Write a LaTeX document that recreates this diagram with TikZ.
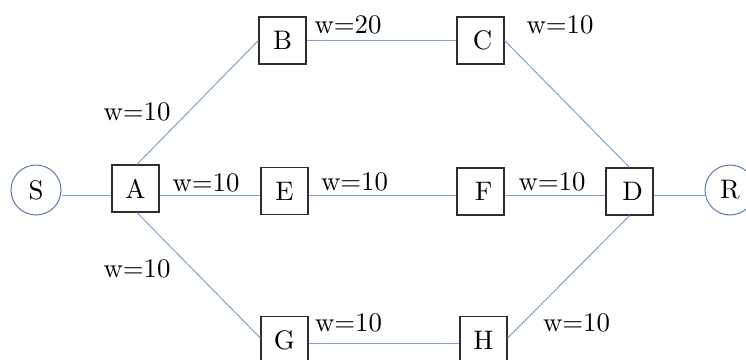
\documentclass[tikz,border=0pt]{standalone}
\usetikzlibrary{calc}
\definecolor{edgeblue}{RGB}{130,160,210}
\definecolor{ringblue}{RGB}{95,120,165}
\definecolor{boxgray}{RGB}{45,45,45}
\newcommand{\bigtxt}[1]{\scalebox{2.68}{#1}}
\begin{document}
\begin{tikzpicture}[x=1pt,y=-1pt,
  boxnode/.style={draw=boxgray,line width=1.3pt,minimum width=47pt,minimum height=47pt,inner sep=0pt},
  endnode/.style={draw=ringblue,line width=1pt,circle,minimum size=50pt,inner sep=0pt},
  wlabel/.style={inner sep=0pt,anchor=center},
  link/.style={draw=edgeblue,line width=1pt}]
\useasboundingbox (0,0) rectangle (746,359);
\clip (0,0) rectangle (746,359);
\node[endnode] (S) at (36,190) {\bigtxt{S}};
\node[boxnode] (A) at (135.5,188.5) {\bigtxt{A}};
\node[boxnode] (B) at (282.5,40.5) {\bigtxt{B}};
\node[boxnode] (C) at (480.5,40.5) {\hspace*{4pt}\bigtxt{C}};
\node[boxnode] (E) at (284.5,191) {\bigtxt{E}};
\node[boxnode] (F) at (480.5,191.5) {\hspace*{6pt}\bigtxt{F}};
\node[boxnode] (D) at (629.5,191.5) {\hspace*{6pt}\bigtxt{D}};
\node[endnode] (R) at (730,190) {\bigtxt{R}};
\node[boxnode] (G) at (284.5,340) {\bigtxt{G}};
\node[boxnode] (H) at (483.5,340) {\bigtxt{H}};
\path[link] ([yshift=-5.5pt]S.east) -- ([yshift=-7pt]A.west);
\path[link] ([yshift=-7pt]A.east) -- ([yshift=-4.5pt]E.west);
\path[link] ([yshift=-4.5pt]E.east) -- ([yshift=-4pt]F.west);
\path[link] ([yshift=-4pt]F.east) -- ([yshift=-4pt]D.west);
\path[link] ([yshift=-4pt]D.east) -- ([yshift=-5.5pt]R.west);
\path[link] (B.east) -- (C.west);
\path[link] ([yshift=-3.5pt]G.east) -- ([yshift=-3.5pt]H.west);
\path[link] ([xshift=1.5pt]A.north) -- (B.west);
\path[link] ([xshift=1.5pt]A.south) -- ([yshift=2pt]G.west);
\path[link] (C.east) -- (D.north);
\path[link] ([yshift=2pt]H.east) -- (D.south);
\node[wlabel] (l1) at (137,112) {\bigtxt{w=10}};
\node[wlabel] (l2) at (348,25) {\bigtxt{w=20}};
\node[wlabel] (l3) at (560,25) {\bigtxt{w=10}};
\node[wlabel] (l4) at (206,183) {\bigtxt{w=10}};
\node[wlabel] (l5) at (354.5,182) {\bigtxt{w=10}};
\node[wlabel] (l6) at (552,182) {\bigtxt{w=10}};
\node[wlabel] (l7) at (137,269) {\bigtxt{w=10}};
\node[wlabel] (l8) at (348.5,323) {\bigtxt{w=10}};
\node[wlabel] (l9) at (576.5,323) {\bigtxt{w=10}};
\end{tikzpicture}
\end{document}
